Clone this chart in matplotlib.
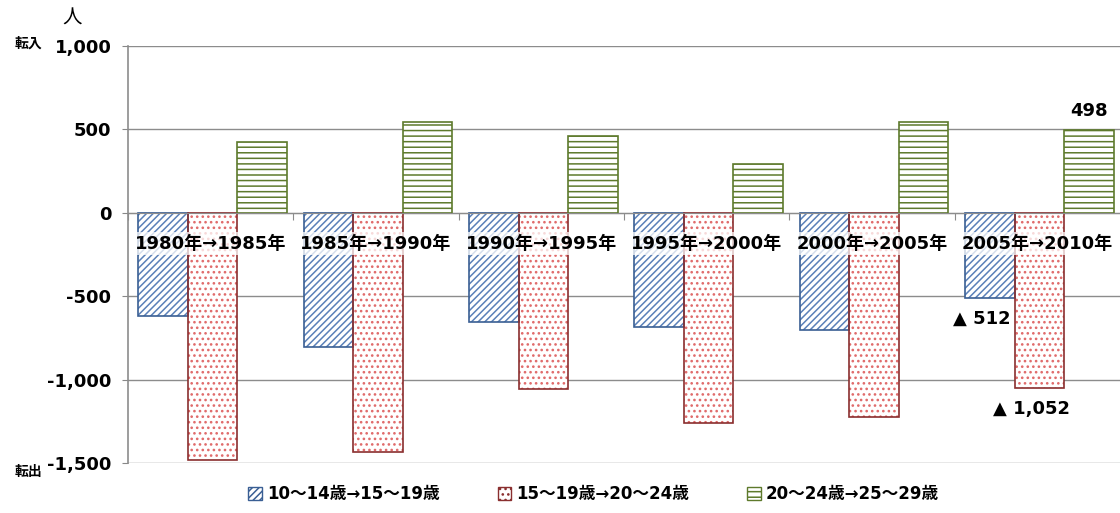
import numpy as np
import matplotlib
matplotlib.use("Agg")
import matplotlib.pyplot as plt
import matplotlib.ticker as mticker

plt.rcParams['font.family'] = ['DejaVu Sans', 'Noto Sans CJK JP']
plt.rcParams['hatch.linewidth'] = 1.1

# ─── data ─────────────────────────────────────────────────────────────────────
periods = ["1980年→1985年", "1985年→1990年", "1990年→1995年",
           "1995年→2000年", "2000年→2005年", "2005年→2010年"]
series_names = ["10〜14歳→15〜19歳", "15〜19歳→20〜24歳", "20〜24歳→25〜29歳"]
age_10_14 = [-620, -805, -655, -685, -703, -512]
age_15_19 = [-1480, -1435, -1055, -1260, -1224, -1052]
age_20_24 = [425, 544, 460, 295, 545, 498]

# (hatch colour, edge colour, hatch pattern)
styles = [
    ("#5a80b8", "#3a5f94", "/////"),
    ("#e06a6a", "#8a2f2f", "..."),
    ("#5e7a2c", "#5e7a2c", "---"),
]

fig = plt.figure(figsize=(11.2, 5.13), dpi=100)
ax = fig.add_axes([0.1143, 0.0975, 0.8857, 0.8128])

x = np.arange(len(periods))
w = 0.30
offsets = [-w + 0.012, 0.012, w + 0.012]
handles = []
for vals, (hc, ec, hatch), off, name in zip(
        [age_10_14, age_15_19, age_20_24], styles, offsets, series_names):
    # hatch layer
    ax.bar(x + off, vals, w, facecolor="white", edgecolor=hc, hatch=hatch,
           linewidth=0, zorder=3)
    # outline layer
    ax.bar(x + off, vals, w, facecolor="none", edgecolor=ec, linewidth=1.2,
           zorder=4)
    h = plt.Rectangle((0, 0), 1, 1, facecolor="white", edgecolor=ec,
                      hatch=hatch, linewidth=1.0)
    handles.append(h)

ax.set_xlim(-0.5, len(periods) - 0.5)
ax.set_ylim(-1500, 1000)
ax.yaxis.set_major_locator(mticker.MultipleLocator(500))
ax.yaxis.set_major_formatter(mticker.FuncFormatter(lambda v, p: f"{int(v):,}"))
for lab in ax.get_yticklabels():
    lab.set_fontweight("bold")
ax.tick_params(axis='y', labelsize=13, length=4, color="#888888", pad=8)
ax.grid(axis='y', color="#8c8c8c", linewidth=1.0, zorder=0)

ax.spines[['top', 'right']].set_visible(False)
ax.spines['left'].set_color("#8c8c8c")
ax.spines['left'].set_linewidth(1.2)
ax.spines['bottom'].set_position(('data', 0))
ax.spines['bottom'].set_color("#8c8c8c")
ax.spines['bottom'].set_zorder(5)
ax.set_xticks(np.arange(len(periods)) - 0.5)
ax.set_xticklabels([])
ax.tick_params(axis='x', length=5, color="#8c8c8c", direction='out')

# period labels inside the plot
for xi, p in zip(x, periods):
    ax.text(xi, -185, p, ha="center", va="center", fontsize=13,
            fontweight="bold", zorder=6,
            bbox=dict(boxstyle="square,pad=0.15", facecolor="white",
                      edgecolor="none", alpha=0.75))

# value annotations
ax.text(x[-1] + offsets[2], age_20_24[-1] + 60, f"{age_20_24[-1]}",
        ha="center", va="bottom", fontsize=13, fontweight="bold")
ax.text(x[-1] + offsets[0] - 0.05, age_10_14[-1] - 70, f"▲ {-age_10_14[-1]}",
        ha="center", va="top", fontsize=13, fontweight="bold")
ax.text(x[-1] + offsets[1] - 0.05, age_15_19[-1] - 70, f"▲ {-age_15_19[-1]:,}",
        ha="center", va="top", fontsize=13, fontweight="bold")

# axis side labels
fig.text(72 / 1120, 1 - 18 / 513, "人", ha="center", va="center", fontsize=14)
fig.text(28 / 1120, 1 - 44 / 513, "転入", ha="center", va="center",
         fontsize=10, fontweight="bold")
fig.text(28 / 1120, 1 - 472 / 513, "転出", ha="center", va="center",
         fontsize=10, fontweight="bold")

fig.legend(handles, series_names, loc="lower center", ncol=3, frameon=False,
           bbox_to_anchor=(0.53, -0.01), handlelength=0.8,
           handleheight=0.8, columnspacing=3.5, handletextpad=0.3,
           prop={'weight': 'bold', 'size': 12})

fig.savefig("out.png", dpi=100)
